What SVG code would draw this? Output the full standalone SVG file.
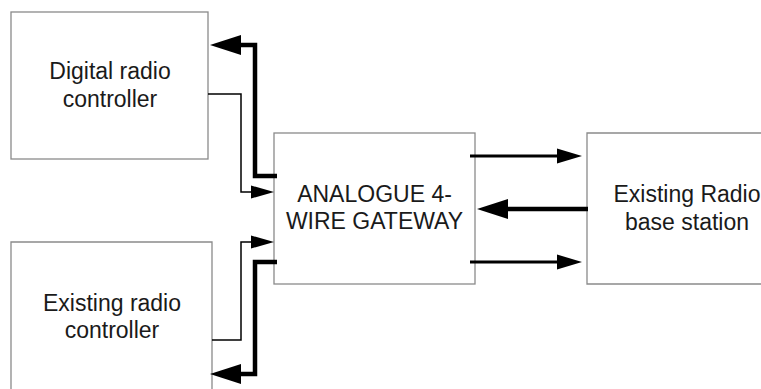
<svg xmlns="http://www.w3.org/2000/svg" width="761" height="389" viewBox="0 0 761 389">
<style>
.box{fill:#fff;stroke:#8a8a8a;stroke-width:1.3}
.lbl{font-family:"Liberation Sans",Arial,sans-serif;font-size:23px;fill:#1a1a1a;text-anchor:middle}
.thin{fill:none;stroke:#000;stroke-width:1.5;stroke-linejoin:miter}
.med{fill:none;stroke:#000;stroke-width:2.8}
.bold{fill:none;stroke:#000;stroke-width:4.5;stroke-linejoin:miter}
</style>
<defs>
<marker id="ht" markerUnits="userSpaceOnUse" markerWidth="24" markerHeight="14" viewBox="0 -7 24 14" refX="0" refY="0" orient="auto" overflow="visible"><path d="M0,-6.5 L23,0 L0,6.5 z" fill="#000"/></marker>
<marker id="hm" markerUnits="userSpaceOnUse" markerWidth="26" markerHeight="16" viewBox="0 -8 26 16" refX="0" refY="0" orient="auto" overflow="visible"><path d="M0,-7.5 L25,0 L0,7.5 z" fill="#000"/></marker>
<marker id="hb" markerUnits="userSpaceOnUse" markerWidth="32" markerHeight="22" viewBox="0 -11 32 22" refX="0" refY="0" orient="auto" overflow="visible"><path d="M0,-10 L31,0 L0,10 z" fill="#000"/></marker>
</defs>
<rect width="761" height="389" fill="#fff"/>
<g id="digital-radio-controller">
<rect class="box" x="11" y="12" width="197" height="147"/>
<text class="lbl" x="110" y="79">Digital radio</text>
<text class="lbl" x="110" y="107">controller</text>
</g>
<g id="existing-radio-controller">
<path class="box" d="M11,395 V242 H212 V395"/>
<text class="lbl" x="112" y="311">Existing radio</text>
<text class="lbl" x="112" y="338">controller</text>
</g>
<g id="gateway">
<rect class="box" x="274" y="133" width="201" height="151"/>
<text class="lbl" x="374.5" y="202">ANALOGUE 4-</text>
<text class="lbl" x="374.5" y="229">WIRE GATEWAY</text>
</g>
<g id="base-station">
<path class="box" d="M770,133 H587 V284 H770"/>
<text class="lbl" x="687" y="202">Existing Radio</text>
<text class="lbl" x="687" y="230">base station</text>
</g>
<g id="connectors">
<path class="bold" d="M277,176 H255 V45 H241" marker-end="url(#hb)"/>
<path class="thin" d="M208,94 H241 V192 H251" marker-end="url(#ht)"/>
<path class="thin" d="M212,340 H241 V242 H251" marker-end="url(#ht)"/>
<path class="bold" d="M277,262 H255 V374 H241" marker-end="url(#hb)"/>
<path class="med" d="M470,156 H557" marker-end="url(#hm)"/>
<path class="bold" d="M588,209 H508" marker-end="url(#hb)"/>
<path class="med" d="M470,262 H557" marker-end="url(#hm)"/>
</g>
</svg>
